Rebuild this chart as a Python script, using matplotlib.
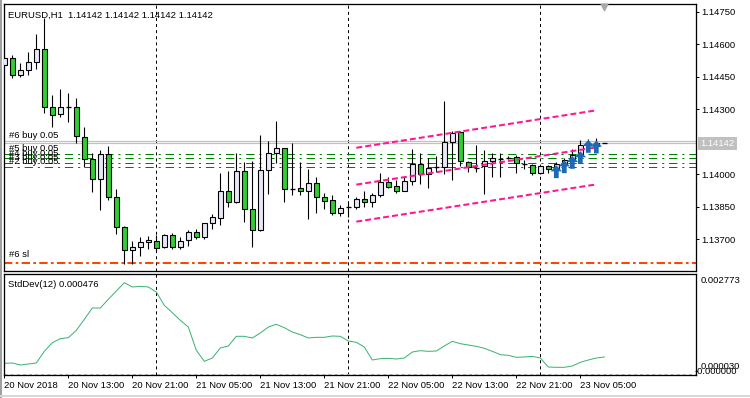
import matplotlib
matplotlib.use("Agg")
import matplotlib.pyplot as plt
import matplotlib.transforms as mtransforms
from matplotlib.patches import Rectangle
from matplotlib.path import Path

plt.rcParams["font.family"] = ["Liberation Sans", "DejaVu Sans"]
plt.rcParams["lines.scale_dashes"] = False

# ---------------------------------------------------------------------------
# Data (EURUSD H1, 20 Nov 2018 05:00 .. 23 Nov 2018 08:00)
# ---------------------------------------------------------------------------

opens = [
    1.14504, 1.14538, 1.14457, 1.14480, 1.14517, 1.14577, 1.14309, 1.14277,
    1.14311, 1.14312, 1.14173, 1.14070, 1.13978, 1.14093, 1.13896, 1.13755,
    1.13650, 1.13663, 1.13686, 1.13692, 1.13663, 1.13718, 1.13663, 1.13695,
    1.13732, 1.13712, 1.13773, 1.13797, 1.13921, 1.13870, 1.14013, 1.13838,
    1.13741, 1.14018, 1.14097, 1.14120, 1.13933, 1.13935, 1.13921, 1.13958,
    1.13893, 1.13880, 1.13820, 1.13848, 1.13847, 1.13884, 1.13870, 1.13903,
    1.13963, 1.13944, 1.13921, 1.13967, 1.14047, 1.13999, 1.14032, 1.14032,
    1.14147, 1.14195, 1.14055, 1.14032, 1.14038, 1.14060, 1.14073, 1.14078,
    1.14078, 1.14050, 1.14044, 1.14004, 1.14037, 1.14023, 1.14043, 1.14062,
    1.14084, 1.14133, 1.14131, 1.14142,
]
highs = [
    1.14546, 1.14550, 1.14512, 1.14563, 1.14647, 1.14722, 1.14366, 1.14392,
    1.14373, 1.14350, 1.14217, 1.14097, 1.14112, 1.14130, 1.13930, 1.13761,
    1.13692, 1.13712, 1.13715, 1.13718, 1.13724, 1.13727, 1.13709, 1.13743,
    1.13746, 1.13776, 1.13816, 1.14006, 1.14015, 1.14097, 1.14056, 1.14062,
    1.14180, 1.14152, 1.14244, 1.14122, 1.14143, 1.14056, 1.14023, 1.13986,
    1.13915, 1.13903, 1.13857, 1.13869, 1.13893, 1.13921, 1.13912, 1.14004,
    1.13989, 1.13973, 1.13989, 1.14115, 1.14097, 1.14073, 1.14084, 1.14337,
    1.14201, 1.14201, 1.14060, 1.14133, 1.14110, 1.14097, 1.14097, 1.14083,
    1.14089, 1.14064, 1.14047, 1.14037, 1.14044, 1.14055, 1.14073, 1.14118,
    1.14158, 1.14161, 1.14168, 1.14142,
]
lows = [
    1.14499, 1.14443, 1.14450, 1.14457, 1.14484, 1.14284, 1.14217, 1.14263,
    1.14242, 1.14143, 1.14035, 1.13919, 1.13835, 1.13881, 1.13724, 1.13586,
    1.13586, 1.13620, 1.13654, 1.13641, 1.13660, 1.13656, 1.13654, 1.13670,
    1.13702, 1.13700, 1.13749, 1.13767, 1.13850, 1.13868, 1.13781, 1.13665,
    1.13737, 1.13910, 1.14050, 1.13870, 1.13906, 1.13906, 1.13795, 1.13822,
    1.13838, 1.13810, 1.13807, 1.13801, 1.13838, 1.13847, 1.13847, 1.13893,
    1.13935, 1.13912, 1.13921, 1.13949, 1.13954, 1.13935, 1.14012, 1.14001,
    1.13973, 1.14038, 1.14012, 1.14010, 1.13907, 1.13986, 1.13989, 1.14070,
    1.14007, 1.14026, 1.13998, 1.14000, 1.14004, 1.14020, 1.14036, 1.14058,
    1.14081, 1.14130, 1.14127, 1.14142,
]
closes = [
    1.14538, 1.14458, 1.14481, 1.14517, 1.14577, 1.14309, 1.14272, 1.14309,
    1.14310, 1.14176, 1.14070, 1.13977, 1.14093, 1.13896, 1.13755, 1.13650,
    1.13663, 1.13686, 1.13696, 1.13660, 1.13718, 1.13663, 1.13690, 1.13732,
    1.13712, 1.13773, 1.13801, 1.13921, 1.13870, 1.14013, 1.13838, 1.13741,
    1.14018, 1.14097, 1.14120, 1.13930, 1.13932, 1.13921, 1.13958, 1.13893,
    1.13875, 1.13820, 1.13843, 1.13847, 1.13884, 1.13870, 1.13903, 1.13964,
    1.13940, 1.13921, 1.13969, 1.14047, 1.13999, 1.14027, 1.14031, 1.14147,
    1.14192, 1.14060, 1.14032, 1.14030, 1.14060, 1.14073, 1.14072, 1.14077,
    1.14050, 1.14049, 1.14004, 1.14037, 1.14023, 1.14047, 1.14066, 1.14089,
    1.14133, 1.14138, 1.14142, 1.14142,
]
stddev = [
    0.000299, 0.000308, 0.000252, 0.000280, 0.000308, 0.000635, 0.000877, 0.000989,
    0.001017, 0.001223, 0.001531, 0.001848, 0.001848, 0.002091, 0.002324, 0.002557,
    0.002436, 0.002455, 0.002436, 0.002296, 0.001923, 0.001717, 0.001503, 0.001316,
    0.000663, 0.000355, 0.000448, 0.000728, 0.000784, 0.001055, 0.001055, 0.001008,
    0.001148, 0.001316, 0.001391, 0.001297, 0.001176, 0.001101, 0.001008, 0.001027,
    0.001027, 0.001064, 0.001055, 0.000924, 0.000887, 0.000756, 0.000392, 0.000429,
    0.000439, 0.000420, 0.000448, 0.000616, 0.000653, 0.000635, 0.000644, 0.000784,
    0.000915, 0.000849, 0.000812, 0.000775, 0.000719, 0.000635, 0.000541, 0.000523,
    0.000467, 0.000476, 0.000495, 0.000448, 0.000196, 0.000187, 0.000187, 0.000224,
    0.000327, 0.000392, 0.000448, 0.000476,
]

time_labels = [
    "20 Nov 2018", "20 Nov 13:00", "20 Nov 21:00", "21 Nov 05:00", "21 Nov 13:00",
    "21 Nov 21:00", "22 Nov 05:00", "22 Nov 13:00", "22 Nov 21:00", "23 Nov 05:00",
]
time_label_bars = [0, 8, 16, 24, 32, 40, 48, 56, 64, 72]
day_sep_bars = [19, 43, 67]

price_ticks = [1.14750, 1.14600, 1.14450, 1.14300, 1.14000, 1.13850, 1.13700]
bid = 1.14142
ask = 1.14152

buy_prices = [1.14093, 1.14073, 1.14052, 1.14032]
buy_labels = ["#5 buy 0.05", "#4 buy 0.05", "#3 buy 0.05", "#2 buy 0.05"]
sl_price = 1.13592

channel_bars = [44, 74]
channel_upper = [1.14122, 1.14295]
channel_mid = [1.13952, 1.14124]
channel_lower = [1.13781, 1.13953]

arrow_bars = [69, 70, 71, 72, 73, 74]
arrow_prices = [1.14010, 1.14033, 1.14053, 1.14075, 1.14127, 1.14124]

# ---------------------------------------------------------------------------
# Figure
# ---------------------------------------------------------------------------

W, H = 750, 398
BULL = "#e8e8f6"
BEAR = "#32cd32"
PX = 0.72  # one pixel in points
FS = 6.8

fig = plt.figure(figsize=(W / 100, H / 100), dpi=100)


def px_axes(x0, y0, x1, y1):
    return fig.add_axes([x0 / W, 1 - y1 / H, (x1 - x0) / W, (y1 - y0) / H])


ax = px_axes(4, 4, 696, 271)
ax2 = px_axes(4, 274, 696, 375)

for a in (ax, ax2):
    a.set_xlim(-0.04, 86.46)
    for s in a.spines.values():
        s.set_linewidth(PX * 1.3)
    for k in day_sep_bars:
        a.axvline(k, color="black", lw=PX, dashes=(2.2, 2.2), zorder=1)

ax.set_ylim(1.13553, 1.14786)
ax2.set_ylim(-0.000028, 0.0028)

# candles
for k, (o, h, l, c) in enumerate(zip(opens, highs, lows, closes)):
    if h > l:
        ax.vlines(k, l, h, color="black", lw=PX * 1.1, zorder=2)
    if abs(c - o) < 0.00002:
        ax.hlines(c, k - 0.32, k + 0.32, color="black", lw=PX * 1.3, zorder=3)
    else:
        ax.add_patch(Rectangle(
            (k - 0.3, min(o, c)), 0.6, abs(c - o),
            facecolor=BULL if c > o else BEAR, edgecolor="black",
            lw=PX * 1.1, zorder=3,
        ))

# price lines
ax.axhline(ask, color="#c0c0c0", lw=PX * 1.2, zorder=1)
ax.axhline(bid, color="#c0c0c0", lw=PX * 1.2, zorder=1)
for p in buy_prices:
    ax.axhline(p, color="#008000", lw=PX, dashes=(6, 3.5, 1.5, 3.5), zorder=1)
ax.axhline(sl_price, color="#ff4500", lw=PX * 2, dashes=(6, 2.4, 1.9, 2.4), zorder=1)

# std-dev channel
for ys in (channel_upper, channel_mid, channel_lower):
    ax.plot(channel_bars, ys, color="#ff1493", lw=PX * 2, dashes=(4.3, 2.2), zorder=4)

# buy arrows
arrow = Path([(0, 1), (0.85, 0.1), (0.35, 0.1), (0.35, -0.9), (-0.35, -0.9),
              (-0.35, 0.1), (-0.85, 0.1), (0, 1)], closed=True)
ax.scatter(arrow_bars, arrow_prices, marker=arrow, s=95, color="#1e69b4",
           edgecolors="none", zorder=5)

# chart-shift marker
ax.scatter([75], [1.14774], marker="v", s=22, color="#a8a8a8", clip_on=False, zorder=6)

# order labels
for p, s in zip(buy_prices, buy_labels):
    ax.annotate(s, (0, p), xytext=(3.5, 0.6), textcoords="offset points",
                fontsize=FS, va="bottom", ha="left", zorder=6)
ax.annotate("#6 buy 0.05", (0, ask), xytext=(3.5, 0.6), textcoords="offset points",
            fontsize=FS, va="bottom", ha="left")
ax.annotate("#6 sl", (0, sl_price), xytext=(3.5, 2.2), textcoords="offset points",
            fontsize=FS, va="bottom", ha="left")

# right price axis
ax.yaxis.tick_right()
ax.set_yticks(price_ticks)
ax.set_yticklabels([f"{p:.5f}" for p in price_ticks])
ax.tick_params(axis="y", length=2.5, width=PX, pad=1.5, labelsize=FS)
ax.set_xticks([])

trans = mtransforms.blended_transform_factory(ax.transAxes, ax.transData)
ax.text(1.006, bid, "1.14142", transform=trans, fontsize=FS, color="white",
        va="center", ha="left",
        bbox=dict(boxstyle="square,pad=0.25", facecolor="#c0c0c0", edgecolor="none"))

ax.text(0.006, 0.975, "EURUSD,H1  1.14142 1.14142 1.14142 1.14142",
        transform=ax.transAxes, fontsize=FS, va="top", ha="left")

# indicator
x_bars = list(range(len(stddev)))
ax2.plot(x_bars, stddev, color="#3cb371", lw=PX)
ax2.axhline(0, color="#c0c0c0", lw=PX, dashes=(2.2, 2.2))
ax2.text(0.006, 0.94, "StdDev(12) 0.000476", transform=ax2.transAxes,
         fontsize=FS, va="top", ha="left")
ax2.set_yticks([])
ax2.text(1.006, 0.94, "0.002773", transform=ax2.transAxes, fontsize=FS, va="center", ha="left")
ax2.text(1.006, 0.08, "0.000030", transform=ax2.transAxes, fontsize=FS, va="center", ha="left")
ax2.text(0.998, 0.03, "-0.000000", transform=ax2.transAxes, fontsize=FS, va="center", ha="left")

ax2.set_xticks(time_label_bars)
ax2.set_xticklabels(time_labels, ha="left")
ax2.tick_params(axis="x", length=2.5, width=PX, pad=2, labelsize=FS)

# window frame
fig.add_artist(plt.Line2D([1 / W, 1 / W], [0, 1], color="#a0a0a0", lw=PX * 2))
fig.add_artist(plt.Line2D([0, 1], [2 / H, 2 / H], color="#d8d8d8", lw=PX * 2))

fig.savefig("out.png", dpi=100)
